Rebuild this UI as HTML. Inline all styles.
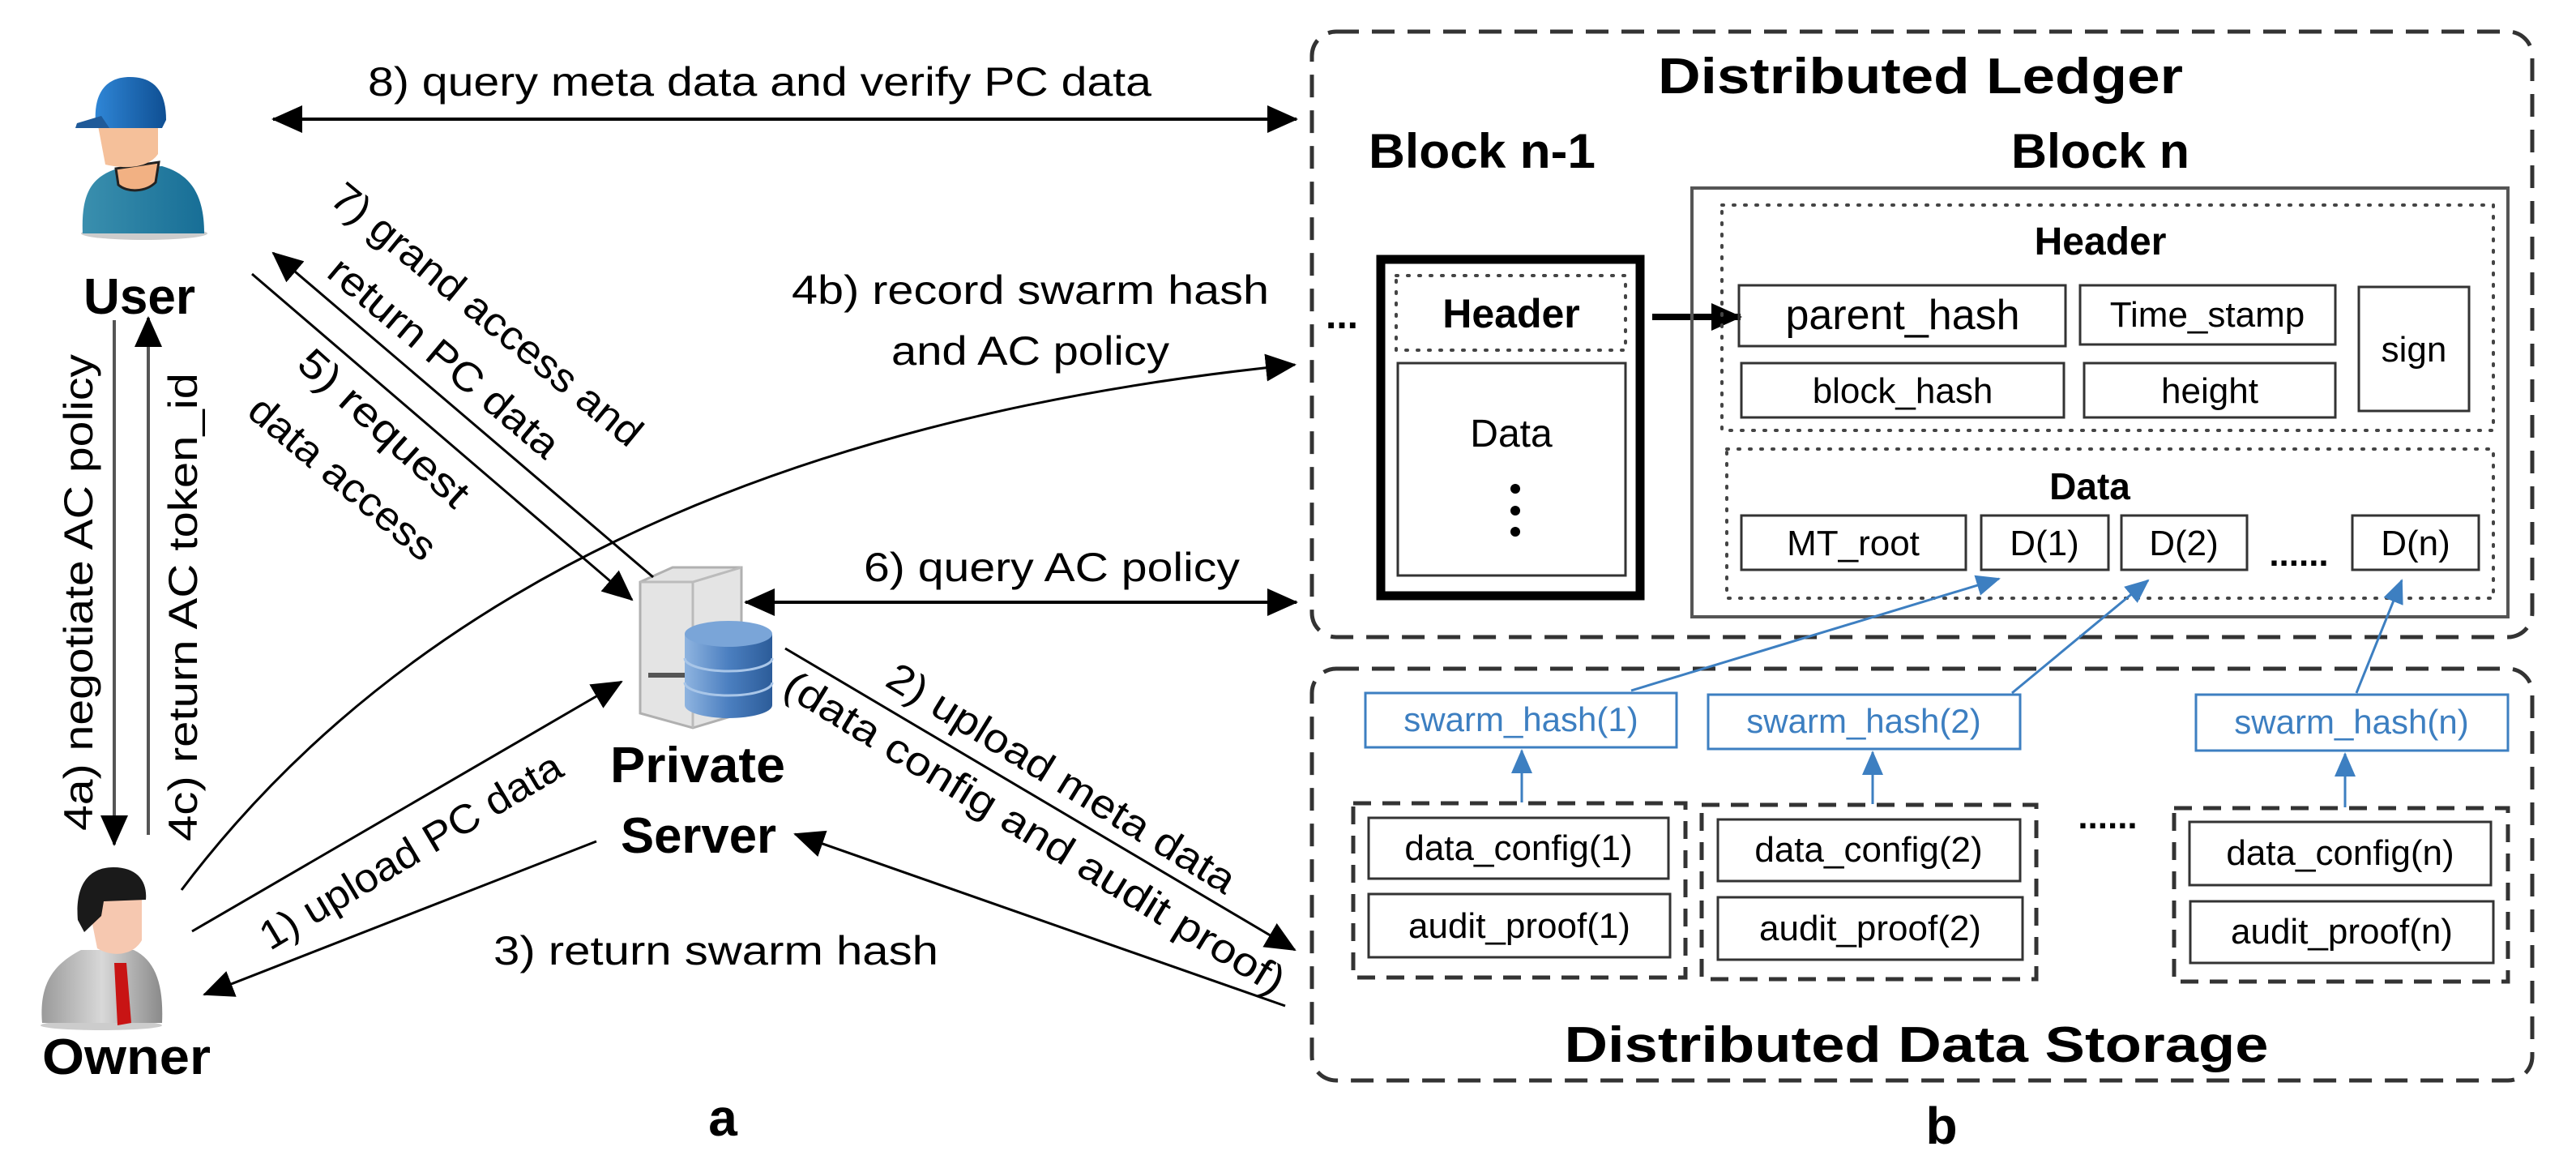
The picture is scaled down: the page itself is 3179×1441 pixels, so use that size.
<!DOCTYPE html>
<html><head><meta charset="utf-8"><style>html,body{margin:0;padding:0;background:#fff}svg{display:block}</style></head>
<body>
<svg width="3179" height="1441" viewBox="0 0 3179 1441" xmlns="http://www.w3.org/2000/svg" font-family="'Liberation Sans', sans-serif">
<defs>
<marker id="ah" markerUnits="userSpaceOnUse" markerWidth="40" markerHeight="34" refX="36" refY="17" orient="auto-start-reverse"><path d="M0,0 L38,17 L0,34 Z" fill="#000"/></marker>
<marker id="bh" markerUnits="userSpaceOnUse" markerWidth="30" markerHeight="26" refX="28" refY="13" orient="auto"><path d="M0,0 L30,13 L0,26 Z" fill="#3d7fc1"/></marker>
<linearGradient id="cyl" x1="0" x2="1"><stop offset="0" stop-color="#8fb4e0"/><stop offset="0.5" stop-color="#4b7fc0"/><stop offset="1" stop-color="#2c5c99"/></linearGradient>
<linearGradient id="shirt" x1="0" x2="1"><stop offset="0" stop-color="#3a8fae"/><stop offset="1" stop-color="#176e96"/></linearGradient>
<linearGradient id="suit" x1="0" x2="1"><stop offset="0" stop-color="#9a9a9a"/><stop offset="0.5" stop-color="#d8d8d8"/><stop offset="1" stop-color="#8a8a8a"/></linearGradient>
<linearGradient id="cap" x1="0" x2="1"><stop offset="0" stop-color="#2f86d6"/><stop offset="1" stop-color="#0f4f93"/></linearGradient>
</defs>

<!-- ===== Left panel ===== -->
<!-- User icon -->
<ellipse cx="178" cy="288" rx="78" ry="8" fill="#ccc"/>
<path d="M102,288 C100,240 112,218 145,208 L200,205 C235,215 252,240 252,288 Z" fill="url(#shirt)"/>
<path d="M143,208 L196,200 L192,225 C180,237 157,238 146,228 Z" fill="#f2b183" stroke="#222" stroke-width="3"/>
<path d="M120,150 L195,150 L195,190 C185,205 160,210 130,203 Z" fill="#f5c09a"/>
<path d="M118,152 C115,110 135,95 160,95 C190,95 205,112 205,148 L200,158 L125,158 Z" fill="url(#cap)"/>
<path d="M125,143 L95,152 L93,158 L135,158 Z" fill="#1f5a99"/>
<text x="172" y="387" font-size="62" font-weight="bold" text-anchor="middle" textLength="138" lengthAdjust="spacingAndGlyphs">User</text>

<!-- Owner icon -->
<ellipse cx="125" cy="1265" rx="75" ry="6" fill="#ccc"/>
<path d="M52,1262 C48,1215 65,1190 100,1172 L165,1172 C192,1185 202,1215 200,1262 Z" fill="url(#suit)"/>
<path d="M141,1188 L156,1188 L162,1262 L145,1265 Z" fill="#c81414"/>
<path d="M108,1110 L175,1110 L175,1160 C165,1178 140,1182 120,1170 Z" fill="#f6c8b0"/>
<path d="M96,1135 C92,1085 115,1070 140,1070 C170,1070 182,1088 180,1110 L128,1112 L125,1130 L104,1150 Z" fill="#1a1a1a"/>
<text x="156" y="1325" font-size="62" font-weight="bold" text-anchor="middle" textLength="208" lengthAdjust="spacingAndGlyphs">Owner</text>

<!-- Server icon -->
<path d="M790,718 L830,700 L915,700 L915,880 L855,898 L790,880 Z" fill="#e4e4e4" stroke="#b0b0b0" stroke-width="3"/>
<path d="M790,718 L855,718 L915,700" fill="none" stroke="#bbb" stroke-width="3"/>
<line x1="855" y1="718" x2="855" y2="898" stroke="#bbb" stroke-width="3"/>
<rect x="800" y="830" width="45" height="6" fill="#555"/>
<path d="M845,782 L845,870 A54,16 0 0 0 953,870 L953,782 Z" fill="url(#cyl)"/>
<ellipse cx="899" cy="782" rx="54" ry="16" fill="#7aa5d8"/>
<path d="M845,812 A54,16 0 0 0 953,812 M845,842 A54,16 0 0 0 953,842" fill="none" stroke="#a9c6e8" stroke-width="3"/>
<text x="861" y="965" font-size="62" font-weight="bold" text-anchor="middle" textLength="216" lengthAdjust="spacingAndGlyphs">Private</text>
<text x="862" y="1052" font-size="62" font-weight="bold" text-anchor="middle" textLength="192" lengthAdjust="spacingAndGlyphs">Server</text>

<g stroke="#000" stroke-width="4" fill="none">
<line x1="337" y1="147" x2="1600" y2="147" marker-start="url(#ah)" marker-end="url(#ah)"/>
<line x1="920" y1="743" x2="1600" y2="743" marker-start="url(#ah)" marker-end="url(#ah)"/>
<line x1="141" y1="395" x2="141" y2="1042" marker-end="url(#ah)" stroke="#555"/>
<line x1="183" y1="1030" x2="183" y2="392" marker-end="url(#ah)" stroke="#555"/>
<line x1="806" y1="712" x2="337" y2="312" marker-end="url(#ah)" stroke-width="3"/>
<line x1="311" y1="338" x2="780" y2="740" marker-end="url(#ah)" stroke-width="3"/>
<path d="M224,1098 Q640,546 1598,450" marker-end="url(#ah)" stroke-width="3"/>
<line x1="237" y1="1149" x2="767" y2="841" marker-end="url(#ah)" stroke-width="3"/>
<line x1="736" y1="1038" x2="252" y2="1227" marker-end="url(#ah)" stroke-width="3"/>
<line x1="969" y1="800" x2="1598" y2="1172" marker-end="url(#ah)" stroke-width="3"/>
<line x1="1586" y1="1241" x2="981" y2="1029" marker-end="url(#ah)" stroke-width="3"/>
</g>

<g font-size="50" fill="#000">
<text x="454" y="118" textLength="967" lengthAdjust="spacingAndGlyphs">8) query meta data and verify PC data</text>
<text x="977" y="375" textLength="589" lengthAdjust="spacingAndGlyphs">4b) record swarm hash</text>
<text x="1100" y="450" textLength="343" lengthAdjust="spacingAndGlyphs">and AC policy</text>
<text x="1066" y="717" textLength="464" lengthAdjust="spacingAndGlyphs">6) query AC policy</text>
<text x="609" y="1190" textLength="549" lengthAdjust="spacingAndGlyphs">3) return swarm hash</text>
<text x="601" y="388" text-anchor="middle" dominant-baseline="central" transform="rotate(39.4 601 388)" textLength="480" lengthAdjust="spacingAndGlyphs">7) grand access and</text>
<text x="548" y="441" text-anchor="middle" dominant-baseline="central" transform="rotate(40 548 441)" textLength="355" lengthAdjust="spacingAndGlyphs">return PC data</text>
<text x="474" y="528" text-anchor="middle" dominant-baseline="central" transform="rotate(42 474 528)" textLength="265" lengthAdjust="spacingAndGlyphs">5) request</text>
<text x="423" y="590" text-anchor="middle" dominant-baseline="central" transform="rotate(40 423 590)" textLength="285" lengthAdjust="spacingAndGlyphs">data access</text>
<text x="507" y="1050" text-anchor="middle" dominant-baseline="central" transform="rotate(-30.8 507 1050)" textLength="425" lengthAdjust="spacingAndGlyphs">1) upload PC data</text>
<text x="1310" y="960" text-anchor="middle" dominant-baseline="central" transform="rotate(31.6 1310 960)" textLength="495" lengthAdjust="spacingAndGlyphs">2) upload meta data</text>
<text x="1277" y="1027" text-anchor="middle" dominant-baseline="central" transform="rotate(31.5 1277 1027)" textLength="715" lengthAdjust="spacingAndGlyphs">(data config and audit proof)</text>
<text x="97" y="731" text-anchor="middle" dominant-baseline="central" transform="rotate(-90 97 731)" textLength="588" lengthAdjust="spacingAndGlyphs">4a) negotiate AC policy</text>
<text x="226" y="749" text-anchor="middle" dominant-baseline="central" transform="rotate(-90 226 749)" textLength="578" lengthAdjust="spacingAndGlyphs">4c) return AC token_id</text>
</g>
<text x="892" y="1401" font-size="64" font-weight="bold" text-anchor="middle">a</text>

<!-- ===== Right panel ===== -->
<rect x="1619" y="39" width="1506" height="747" rx="30" fill="none" stroke="#333" stroke-width="5" stroke-dasharray="28 16"/>
<rect x="1619" y="825" width="1506" height="508" rx="30" fill="none" stroke="#333" stroke-width="5" stroke-dasharray="28 16"/>
<text x="2370" y="115" font-size="62" font-weight="bold" text-anchor="middle" textLength="648" lengthAdjust="spacingAndGlyphs">Distributed Ledger</text>
<text x="1689" y="207" font-size="60" font-weight="bold" textLength="280" lengthAdjust="spacingAndGlyphs">Block n-1</text>
<text x="2482" y="207" font-size="60" font-weight="bold" textLength="220" lengthAdjust="spacingAndGlyphs">Block n</text>

<rect x="1704" y="320" width="320" height="415" fill="none" stroke="#000" stroke-width="11"/>
<rect x="1723" y="340" width="283" height="92" fill="none" stroke="#444" stroke-width="4" stroke-dasharray="2 12" stroke-linecap="round"/>
<text x="1865" y="404" font-size="50" font-weight="bold" text-anchor="middle">Header</text>
<rect x="1725" y="448" width="281" height="262" fill="none" stroke="#333" stroke-width="3"/>
<text x="1865" y="551" font-size="48" text-anchor="middle">Data</text>
<circle cx="1870" cy="603" r="6"/><circle cx="1870" cy="630" r="6"/><circle cx="1870" cy="656" r="6"/>
<text x="1636" y="405" font-size="48" font-weight="bold">...</text>
<line x1="2039" y1="391" x2="2148" y2="391" stroke="#000" stroke-width="8" marker-end="url(#ah)"/>

<rect x="2088" y="232" width="1007" height="529" fill="none" stroke="#555" stroke-width="4"/>
<rect x="2125" y="253" width="952" height="278" fill="none" stroke="#444" stroke-width="4" stroke-dasharray="2 12" stroke-linecap="round"/>
<text x="2592" y="314" font-size="48" font-weight="bold" text-anchor="middle">Header</text>
<g fill="none" stroke="#333" stroke-width="3">
<rect x="2146" y="352" width="403" height="75"/>
<rect x="2567" y="352" width="315" height="73"/>
<rect x="2911" y="354" width="136" height="153"/>
<rect x="2149" y="448" width="398" height="67"/>
<rect x="2572" y="448" width="310" height="67"/>
</g>
<g font-size="44" text-anchor="middle">
<text x="2348" y="406" font-size="52">parent_hash</text>
<text x="2724" y="403">Time_stamp</text>
<text x="2979" y="446">sign</text>
<text x="2348" y="497">block_hash</text>
<text x="2727" y="497">height</text>
</g>
<rect x="2131" y="554" width="946" height="184" fill="none" stroke="#444" stroke-width="4" stroke-dasharray="2 12" stroke-linecap="round"/>
<text x="2579" y="616" font-size="46" font-weight="bold" text-anchor="middle">Data</text>
<g fill="none" stroke="#333" stroke-width="3">
<rect x="2149" y="636" width="277" height="67"/>
<rect x="2445" y="636" width="157" height="67"/>
<rect x="2618" y="636" width="155" height="67"/>
<rect x="2903" y="636" width="156" height="67"/>
</g>
<g font-size="44" text-anchor="middle">
<text x="2287" y="685">MT_root</text>
<text x="2523" y="685">D(1)</text>
<text x="2695" y="685">D(2)</text>
<text x="2981" y="685">D(n)</text>
</g>
<text x="2837" y="698" font-size="44" font-weight="bold" text-anchor="middle">......</text>

<g fill="none" stroke="#3d7fc1" stroke-width="3">
<rect x="1685" y="855" width="384" height="67"/>
<rect x="2108" y="857" width="385" height="67"/>
<rect x="2710" y="857" width="385" height="69"/>
<line x1="2013" y1="852" x2="2467" y2="714" marker-end="url(#bh)"/>
<line x1="2483" y1="855" x2="2651" y2="716" marker-end="url(#bh)"/>
<line x1="2908" y1="855" x2="2964" y2="716" marker-end="url(#bh)"/>
<line x1="1878" y1="990" x2="1878" y2="926" marker-end="url(#bh)"/>
<line x1="2311" y1="992" x2="2311" y2="928" marker-end="url(#bh)"/>
<line x1="2894" y1="996" x2="2894" y2="930" marker-end="url(#bh)"/>
</g>
<g font-size="42" fill="#3d7fc1" text-anchor="middle">
<text x="1877" y="902">swarm_hash(1)</text>
<text x="2300" y="904">swarm_hash(2)</text>
<text x="2902" y="905">swarm_hash(n)</text>
</g>
<g fill="none" stroke="#333" stroke-width="5" stroke-dasharray="22 14">
<rect x="1670" y="991" width="410" height="215"/>
<rect x="2100" y="993" width="413" height="215"/>
<rect x="2683" y="997" width="412" height="214"/>
</g>
<g fill="none" stroke="#333" stroke-width="3">
<rect x="1689" y="1009" width="370" height="75"/>
<rect x="1689" y="1103" width="372" height="78"/>
<rect x="2120" y="1011" width="373" height="76"/>
<rect x="2120" y="1107" width="376" height="77"/>
<rect x="2702" y="1014" width="372" height="78"/>
<rect x="2703" y="1112" width="374" height="76"/>
</g>
<g font-size="44" text-anchor="middle">
<text x="1874" y="1061">data_config(1)</text>
<text x="1875" y="1157">audit_proof(1)</text>
<text x="2306" y="1063">data_config(2)</text>
<text x="2308" y="1160">audit_proof(2)</text>
<text x="2888" y="1067">data_config(n)</text>
<text x="2890" y="1164">audit_proof(n)</text>
</g>
<text x="2601" y="1022" font-size="44" font-weight="bold" text-anchor="middle">......</text>
<text x="2365" y="1310" font-size="62" font-weight="bold" text-anchor="middle" textLength="869" lengthAdjust="spacingAndGlyphs">Distributed Data Storage</text>
<text x="2396" y="1411" font-size="64" font-weight="bold" text-anchor="middle">b</text>
</svg>
</body></html>
